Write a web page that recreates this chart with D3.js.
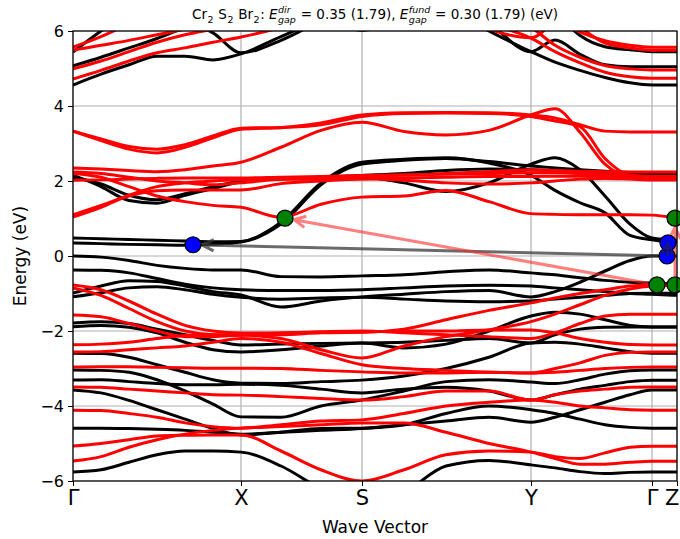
<!DOCTYPE html>
<html>
<head>
<meta charset="utf-8">
<script src="https://cdn.jsdelivr.net/npm/d3@7"></script>
<style>
  body { margin: 0; background: #fff; }
  text { font-family: "DejaVu Sans", sans-serif; }
</style>
</head>
<body>
<script>
// k-path: high-symmetry points and labels
const kTicks = [0, 1.68, 2.89, 4.58, 5.79, 6.04]
const kLabels = ['Γ', 'X', 'S', 'Y', 'Γ', 'Z']
const yTicks = [-6, -4, -2, 0, 2, 4, 6]

// k samples shared by every band
const kGrid = [0, 0.28, 0.56, 0.84, 1.12, 1.40, 1.68, 2.08, 2.48, 2.89, 3.31, 3.73, 4.16, 4.58, 4.82, 5.07, 5.32, 5.57, 5.79, 6.04]

// spin up (black), eV
const bandsUp = [
  [4.56, 4.85, 5.1, 5.33, 5.33, 5.23, 5.39, 5.85, 6.3, 6.6, 6.8, 6.6, 6.0, 5.45, 5.17, 4.95, 4.76, 4.62, 4.56, 4.56],
  [5.07, 5.3, 5.55, 5.8, 6.1, 6.4, 6.7, 7, 7, 7, 7, 6.8, 6.2, 5.45, 5.76, 5.38, 5.1, 5.05, 5.05, 5.05],
  [5.44, 6.0, 6.5, 7, 7, 7, 7, 7, 7, 7, 7, 7, 7, 7, 6.5, 5.88, 5.58, 5.5, 5.45, 5.45],
  [7, 7, 7, 6.6, 6.3, 5.95, 5.42, 5.75, 6.3, 7, 7, 7, 7, 7, 7, 7, 7, 7, 7, 7],
  [7, 7, 7, 7, 7, 7, 7, 6.9, 6.4, 6.02, 6.4, 7, 7, 7, 7, 7, 7, 7, 7, 7],
  [0.35, 0.33, 0.31, 0.3, 0.29, 0.31, 0.37, 0.9, 1.95, 2.5, 2.58, 2.62, 2.48, 2.15, 1.75, 1.42, 1.15, 0.55, 0.43, 0.35],
  [0.48, 0.46, 0.44, 0.42, 0.4, 0.38, 0.39, 0.85, 1.9, 2.45, 2.55, 2.6, 2.52, 2.4, 2.35, 2.3, 2.26, 2.23, 2.22, 2.2],
  [2.16, 1.85, 1.48, 1.41, 1.62, 1.8, 1.98, 2.06, 2.08, 2.1, 1.95, 1.72, 1.95, 2.45, 2.62, 2.3, 1.6, 0.85, 0.48, 0.42],
  [2.1, 1.92, 1.62, 1.5, 1.66, 1.85, 2.0, 2.08, 2.1, 2.15, 2.2, 2.28, 2.32, 2.3, 2.27, 2.24, 2.2, 2.17, 2.16, 2.16],
  [0.0, -0.03, -0.12, -0.25, -0.33, -0.37, -0.37, -0.55, -0.56, -0.53, -0.5, -0.42, -0.37, -0.45, -0.5, -0.58, -0.65, -0.7, -0.72, -0.75],
  [-0.37, -0.38, -0.45, -0.6, -0.75, -0.85, -0.9, -0.92, -0.92, -0.9, -0.85, -0.8, -0.78, -0.8, -0.85, -0.9, -0.95, -1.0, -1.02, -1.05],
  [-0.99, -0.8, -0.66, -0.68, -0.8, -0.95, -1.04, -1.36, -1.2, -1.09, -1.02, -0.95, -0.92, -1.09, -0.95, -0.7, -0.4, -0.12, 0.0, 0.0],
  [-1.09, -0.98, -0.85, -0.82, -0.9, -1.02, -1.1, -1.15, -1.12, -1.1, -1.15, -1.2, -1.22, -1.2, -1.15, -1.1, -1.05, -1.0, -0.99, -0.99],
  [-1.79, -1.75, -1.8, -1.95, -2.1, -2.25, -2.37, -2.35, -2.33, -2.32, -2.3, -2.25, -2.2, -2.32, -2.1, -1.95, -1.9, -1.89, -1.89, -1.89],
  [-1.89, -1.85, -1.9, -2.05, -2.3, -2.5, -2.56, -2.5, -2.4, -2.32, -2.45, -2.35, -2.0, -1.6, -1.5, -1.55, -1.7, -1.85, -1.89, -1.89],
  [-2.59, -2.6, -2.7, -2.9, -3.1, -3.3, -3.39, -3.4, -3.35, -3.31, -3.2, -3.0, -2.7, -2.32, -2.3, -2.35, -2.45, -2.55, -2.59, -2.59],
  [-3.04, -3.05, -3.1, -3.3, -3.6, -3.95, -4.29, -4.3, -4.0, -3.84, -3.6, -3.35, -3.3, -3.36, -3.4, -3.3, -3.15, -3.06, -3.04, -3.04],
  [-3.31, -3.3, -3.35, -3.4, -3.43, -3.43, -3.42, -3.45, -3.55, -3.65, -3.55, -3.5, -3.6, -3.84, -3.7, -3.55, -3.45, -3.35, -3.31, -3.31],
  [-3.57, -3.65, -3.85, -4.1, -4.35, -4.6, -4.77, -4.7, -4.6, -4.59, -4.5, -4.4, -4.3, -4.43, -4.3, -4.1, -3.9, -3.7, -3.57, -3.57],
  [-4.59, -4.59, -4.6, -4.62, -4.65, -4.7, -4.75, -4.7, -4.65, -4.6, -4.5, -4.2, -4.0, -4.1, -4.2, -4.35, -4.5, -4.57, -4.59, -4.59],
  [-5.76, -5.7, -5.5, -5.3, -5.2, -5.2, -5.23, -5.6, -6.2, -6.6, -6.3, -5.6, -5.45, -5.57, -5.65, -5.75, -5.8, -5.77, -5.76, -5.76]
]

// spin down (red), eV
const bandsDown = [
  [5.57, 5.85, 6.2, 6.6, 7, 7, 7, 7, 7, 7, 7, 7, 7, 7, 6.3, 5.97, 5.74, 5.62, 5.57, 5.57],
  [5.49, 5.62, 5.75, 5.9, 6.05, 6.2, 6.4, 6.8, 7, 7, 7, 7, 7, 7, 6.6, 6.1, 5.68, 5.55, 5.49, 5.49],
  [4.99, 5.2, 5.45, 5.7, 5.9, 6.05, 6.2, 6.6, 7, 7, 7, 7, 6.6, 6.1, 5.62, 5.3, 5.08, 4.99, 4.96, 4.96],
  [4.72, 4.95, 5.2, 5.42, 5.55, 5.7, 5.84, 6.1, 6.5, 7, 7, 6.7, 6.2, 5.81, 5.45, 5.15, 4.9, 4.78, 4.74, 4.74],
  [7, 7, 7, 7, 7, 7, 7, 7, 7, 7, 7, 6.6, 6.05, 5.82, 6.3, 7, 7, 7, 7, 7],
  [3.33, 3.12, 2.92, 2.85, 2.97, 3.2, 3.41, 3.43, 3.55, 3.76, 3.82, 3.83, 3.82, 3.76, 3.68, 3.5, 3.33, 3.31, 3.31, 3.31],
  [3.33, 3.08, 2.85, 2.75, 2.9, 3.15, 3.38, 3.42, 3.5, 3.72, 3.8, 3.81, 3.8, 3.72, 3.6, 3.45, 2.6, 2.15, 2.1, 2.1],
  [2.35, 2.32, 2.28, 2.25, 2.3, 2.4, 2.5, 2.9, 3.35, 3.57, 3.32, 3.23, 3.35, 3.76, 3.93, 3.3, 2.45, 2.1, 2.05, 2.05],
  [2.2, 2.1, 1.85, 1.6, 1.45, 1.35, 1.3, 1.03, 1.38, 1.57, 1.6, 1.75, 1.45, 1.13, 1.11, 1.1, 1.1, 1.1, 1.09, 1.01],
  [1.1, 1.35, 1.6, 1.74, 1.76, 1.76, 1.76, 1.93, 2.0, 2.05, 2.08, 2.1, 2.12, 2.12, 2.13, 2.13, 2.12, 2.12, 2.12, 2.12],
  [1.04, 1.3, 1.62, 1.85, 1.95, 2.0, 2.03, 2.05, 2.05, 2.06, 2.02, 1.95, 1.92, 1.95, 2.0, 2.05, 2.07, 2.05, 2.03, 2.03],
  [2.02, 2.03, 2.05, 2.07, 2.08, 2.08, 2.08, 2.1, 2.12, 2.15, 2.17, 2.18, 2.2, 2.22, 2.22, 2.2, 2.18, 2.15, 2.13, 2.13],
  [2.24, 2.2, 2.1, 2.0, 1.95, 1.9, 1.95, 2.05, 2.1, 2.13, 2.15, 2.2, 2.25, 2.3, 2.28, 2.26, 2.25, 2.24, 2.24, 2.24],
  [-0.77, -0.9, -1.2, -1.55, -1.85, -2.0, -2.05, -2.05, -2.03, -2.03, -1.95, -1.7, -1.45, -1.25, -1.12, -1.0, -0.9, -0.8, -0.77, -0.77],
  [-0.85, -1.05, -1.4, -1.75, -2.0, -2.1, -2.11, -2.2, -2.5, -2.72, -2.4, -2.15, -1.97, -1.75, -1.55, -1.3, -1.05, -0.88, -0.8, -0.78],
  [-1.57, -1.62, -1.8, -2.0, -2.15, -2.15, -2.1, -2.05, -2.02, -2.0, -2.05, -2.1, -2.15, -2.2, -2.05, -1.8, -1.6, -1.55, -1.55, -1.55],
  [-2.37, -2.35, -2.3, -2.2, -2.12, -2.1, -2.11, -2.1, -2.05, -2.03, -2.0, -2.0, -1.97, -1.97, -2.05, -2.2, -2.3, -2.36, -2.37, -2.37],
  [-2.56, -2.55, -2.5, -2.45, -2.4, -2.3, -2.2, -2.3, -2.6, -2.9, -3.0, -3.05, -3.1, -3.12, -3.0, -2.85, -2.65, -2.57, -2.56, -2.56],
  [-2.96, -2.95, -2.95, -2.97, -2.98, -2.99, -2.99, -3.0, -3.05, -3.09, -3.12, -3.12, -3.1, -3.12, -3.1, -3.05, -3.0, -2.97, -2.96, -2.96],
  [-3.49, -3.5, -3.55, -3.6, -3.65, -3.7, -3.71, -3.75, -3.8, -3.84, -3.75, -3.6, -3.6, -3.84, -3.7, -3.6, -3.55, -3.5, -3.49, -3.49],
  [-4.11, -4.12, -4.2, -4.3, -4.45, -4.55, -4.59, -4.5, -4.4, -4.37, -4.2, -4.0, -3.9, -3.84, -3.9, -4.0, -4.05, -4.1, -4.11, -4.11],
  [-5.07, -5.0, -4.9, -4.8, -4.78, -4.77, -4.77, -5.2, -5.7, -6.0, -5.7, -5.3, -5.2, -5.23, -5.35, -5.4, -5.25, -5.1, -5.07, -5.07],
  [-5.47, -5.35, -5.1, -4.9, -4.75, -4.65, -4.59, -4.55, -4.5, -4.45, -4.45, -4.7, -5.0, -5.23, -5.4, -5.55, -5.55, -5.5, -5.47, -5.47]
]

// band-edge markers [k, E]
const vbmUp = [5.94, 0.0], cbmUp = [1.20, 0.30], cbmUpZ = [5.95, 0.35]
const vbmDn = [5.84, -0.77], cbmDn = [2.12, 1.01], vbmDnZ = [6.02, -0.77], cbmDnZ = [6.02, 1.01]

let dim = {width: 680, height: 539}
let margin = {top: 31, bottom: 58, left: 73, right: 3}
const W = dim.width - margin.left - margin.right
const H = dim.height - margin.top - margin.bottom

let svg = d3.select('body').append('svg').attr('width', dim.width).attr('height', dim.height)
const graph = svg.append('g').attr('transform', `translate(${margin.left},${margin.top})`)

let x = d3.scaleLinear([0, 6.04], [0, W])
let y = d3.scaleLinear([-6, 6], [H, 0])

svg.append('defs').append('clipPath').attr('id', 'clip')
  .append('rect').attr('width', W).attr('height', H)

// grid
graph.append('g').selectAll('line').data(kTicks).enter().append('line')
  .attr('x1', d => x(d)).attr('x2', d => x(d)).attr('y1', 0).attr('y2', H)
  .attr('stroke', '#b0b0b0').attr('stroke-width', 1.2)
graph.append('g').selectAll('line').data(yTicks).enter().append('line')
  .attr('x1', 0).attr('x2', W).attr('y1', d => y(d)).attr('y2', d => y(d))
  .attr('stroke', '#b0b0b0').attr('stroke-width', 1.2)

// bands
const line = d3.line().x((d, i) => x(kGrid[i])).y(d => y(d)).curve(d3.curveMonotoneX)
const plot = graph.append('g').attr('clip-path', 'url(#clip)')
plot.selectAll('path.up').data(bandsUp).enter().append('path')
  .attr('class', 'up').attr('d', line)
  .attr('fill', 'none').attr('stroke', '#000').attr('stroke-width', 3).attr('stroke-linejoin', 'round')
plot.selectAll('path.dn').data(bandsDown).enter().append('path')
  .attr('class', 'dn').attr('d', line)
  .attr('fill', 'none').attr('stroke', '#ff0000').attr('stroke-width', 3).attr('stroke-linejoin', 'round')

// arrows ('->' style, shrunk to the marker edges)
function arrow(from, to, color, opacity, shrink) {
  let x1 = x(from[0]), y1 = y(from[1]), x2 = x(to[0]), y2 = y(to[1])
  let dx = x2 - x1, dy = y2 - y1, len = Math.hypot(dx, dy)
  let ux = dx / len, uy = dy / len
  x1 += ux * shrink; y1 += uy * shrink; x2 -= ux * shrink; y2 -= uy * shrink
  let head = 13, ang = 0.45
  let ax = Math.cos(ang), ay = Math.sin(ang)
  let h1 = [x2 - head * (ux * ax - uy * ay), y2 - head * (uy * ax + ux * ay)]
  let h2 = [x2 - head * (ux * ax + uy * ay), y2 - head * (uy * ax - ux * ay)]
  graph.append('path')
    .attr('d', `M${x1},${y1}L${x2},${y2}M${h1[0]},${h1[1]}L${x2},${y2}L${h2[0]},${h2[1]}`)
    .attr('fill', 'none').attr('stroke', color).attr('stroke-opacity', opacity)
    .attr('stroke-width', 3).attr('stroke-linejoin', 'miter')
}
arrow(vbmUp, cbmUp, '#3a3a3a', 0.75, 9)
arrow(vbmDn, cbmDn, '#ff2a2a', 0.6, 9)
arrow(vbmDnZ, cbmDnZ, '#ff2a2a', 0.6, 9)

// markers
const dots = [
  {p: cbmUp, c: '#0000ff'}, {p: vbmUp, c: '#0000ff'}, {p: cbmUpZ, c: '#0000ff'},
  {p: cbmDn, c: '#008000'}, {p: vbmDn, c: '#008000'}, {p: vbmDnZ, c: '#008000'}, {p: cbmDnZ, c: '#008000'}
]
graph.selectAll('circle').data(dots).enter().append('circle')
  .attr('cx', d => x(d.p[0])).attr('cy', d => y(d.p[1])).attr('r', 8)
  .attr('fill', d => d.c).attr('stroke', '#000').attr('stroke-width', 1.2)
arrow(vbmUp, cbmUpZ, '#1a1a6a', 0.8, 0)

// frame
graph.append('rect').attr('width', W).attr('height', H)
  .attr('fill', 'none').attr('stroke', '#000').attr('stroke-width', 1.2)

// axes
const axisX = d3.axisBottom(x).tickValues(kTicks).tickFormat((d, i) => kLabels[i]).tickSizeOuter(0).tickSize(5).tickPadding(4)
const gx = graph.append('g').attr('transform', `translate(0,${H})`).call(axisX)
gx.select('.domain').remove()
gx.selectAll('text').attr('font-size', 21).attr('fill', '#000').attr('font-family', 'DejaVu Sans')
gx.selectAll('line').attr('stroke', '#000')
// last label sits on the right spine: keep it inside the figure
gx.selectAll('text').filter((d, i) => i === kTicks.length - 1).attr('text-anchor', 'end').attr('dx', 2)

const axisY = d3.axisLeft(y).tickValues(yTicks).tickFormat(d => d < 0 ? '\u2212' + Math.abs(d) : d).tickSizeOuter(0).tickSize(5).tickPadding(4)
const gy = graph.append('g').call(axisY)
gy.select('.domain').remove()
gy.selectAll('text').attr('font-size', 16).attr('fill', '#000').attr('font-family', 'DejaVu Sans')
gy.selectAll('line').attr('stroke', '#000')

// labels
svg.append('text').attr('x', margin.left + W / 2).attr('y', 533).attr('text-anchor', 'middle')
  .attr('font-size', 17).text('Wave Vector')
svg.append('text').attr('transform', `translate(26,${margin.top + H / 2}) rotate(-90)`).attr('text-anchor', 'middle')
  .attr('font-size', 17).text('Energy (eV)')

// title: laid out piece by piece so sub/superscripts stack like mathtext
const titleParts = [
  {t: 'Cr'}, {sub: '2'}, {t: ' S'}, {sub: '2'}, {t: ' Br'}, {sub: '2'}, {t: ': '},
  {t: 'E', it: true}, {sup: 'dir', sub: 'gap'}, {t: ' = 0.35 (1.79), '},
  {t: 'E', it: true}, {sup: 'fund', sub: 'gap'}, {t: ' = 0.30 (1.79) (eV)'}
]
const tg = svg.append('g')
let cx = 0
const base = 19, fs = 13.5, fsSmall = 9.5
titleParts.forEach(p => {
  if (p.t) {
    let el = tg.append('text').attr('x', cx).attr('y', base).attr('font-size', fs).text(p.t)
      .attr('xml:space', 'preserve').style('white-space', 'pre')
    if (p.it) el.attr('font-style', 'italic')
    cx += el.node().getComputedTextLength()
  } else {
    let wMax = 0
    if (p.sup) {
      let el = tg.append('text').attr('x', cx + 0.5).attr('y', base - 6).attr('font-size', fsSmall)
        .attr('font-style', 'italic').text(p.sup)
      wMax = Math.max(wMax, el.node().getComputedTextLength())
    }
    let el = tg.append('text').attr('x', cx + 0.5).attr('y', base + 3.5).attr('font-size', fsSmall)
      .attr('font-style', p.sup ? 'italic' : 'normal').text(p.sub)
    wMax = Math.max(wMax, el.node().getComputedTextLength())
    cx += wMax + 1
  }
})
tg.attr('transform', `translate(${margin.left + W / 2 - cx / 2},0)`)
</script>
</body>
</html>
